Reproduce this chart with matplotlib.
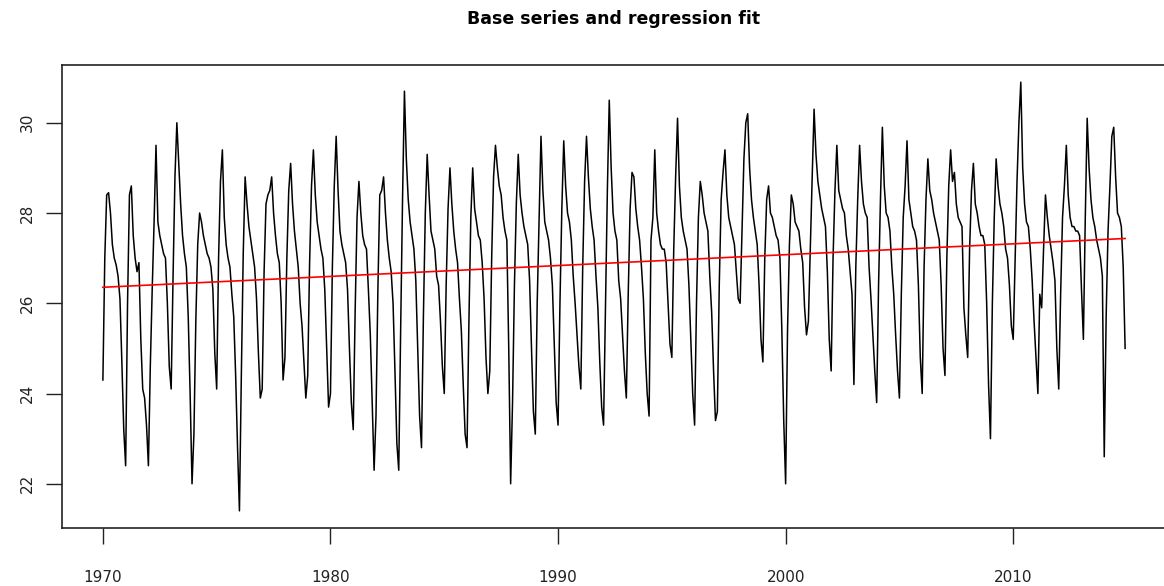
import numpy as np
import matplotlib
matplotlib.use("Agg")
import matplotlib.pyplot as plt

plt.rcParams['font.family'] = ['DejaVu Sans']

# monthly values, Jan 1970 .. Dec 2014
start_year = 1970
vals_1970s = [
    24.3, 27.0, 28.4, 28.45, 28.0, 27.3, 27.0, 26.85, 26.6, 26.1, 24.7, 23.2,
    22.4, 26.0, 28.4, 28.6, 27.5, 27.0, 26.7, 26.9, 25.2, 24.1, 23.9, 23.3,
    22.4, 24.6, 26.3, 27.8, 29.5, 27.8, 27.5, 27.3, 27.1, 27.0, 26.0, 24.6,
    24.1, 26.6, 28.8, 30.0, 29.1, 28.2, 27.5, 27.1, 26.8, 25.7, 24.0, 22.0,
    23.1, 25.6, 27.3, 28.0, 27.8, 27.5, 27.3, 27.1, 27.0, 26.8, 26.3, 24.9,
    24.1, 27.0, 28.7, 29.4, 27.9, 27.3, 27.0, 26.8, 26.2, 25.7, 24.4, 22.8,
    21.4, 24.4, 27.1, 28.8, 28.2, 27.7, 27.4, 27.1, 26.8, 26.1, 24.9, 23.9,
    24.1, 26.7, 28.2, 28.4, 28.5, 28.8, 28.0, 27.5, 27.1, 26.9, 26.0, 24.3,
    24.8, 27.0, 28.5, 29.1, 28.2, 27.6, 27.2, 26.8, 26.0, 25.5, 24.7, 23.9,
    24.4, 26.9, 28.6, 29.4, 28.4, 27.8, 27.5, 27.2, 27.0, 26.3, 25.0, 23.7,
]
vals_1980s = [
    24.0, 26.8, 28.6, 29.7, 28.5, 27.6, 27.3, 27.1, 26.9, 26.3, 25.0, 23.8,
    23.2, 25.8, 27.9, 28.7, 28.0, 27.5, 27.3, 27.2, 26.3, 25.3, 23.8, 22.3,
    23.5, 26.3, 28.4, 28.5, 28.8, 28.0, 27.4, 27.0, 26.7, 26.0, 24.5, 22.9,
    22.3, 25.4, 28.3, 30.7, 29.2, 28.3, 27.8, 27.5, 27.2, 26.5, 25.0, 23.5,
    22.8, 25.7, 28.0, 29.3, 28.4, 27.6, 27.4, 27.2, 26.6, 26.4, 25.6, 24.6,
    24.0, 26.4, 28.1, 29.0, 28.2, 27.6, 27.2, 26.9, 26.1, 25.4, 24.2, 23.1,
    22.8, 25.6, 27.9, 29.0, 28.1, 27.8, 27.5, 27.4, 26.9, 26.1, 24.8, 24.0,
    24.5, 27.0, 28.8, 29.5, 29.0, 28.6, 28.4, 27.9, 27.6, 27.4, 25.0, 22.0,
    23.8, 26.4, 28.2, 29.3, 28.4, 28.0, 27.7, 27.5, 27.3, 26.5, 25.0, 23.6,
    23.1, 26.0, 27.9, 29.7, 28.5, 27.8, 27.6, 27.4, 27.0, 26.4, 25.1, 23.8,
]
vals_1990s = [
    23.3, 26.0, 28.1, 29.6, 28.6, 28.0, 27.8, 27.4, 26.6, 26.0, 25.3, 24.6,
    24.1, 26.8, 28.7, 29.7, 28.8, 28.1, 27.7, 27.4, 26.6, 25.9, 24.7, 23.7,
    23.3, 25.9, 28.5, 30.5, 29.0, 28.0, 27.6, 27.4, 26.5, 26.1, 25.3, 24.5,
    23.9, 26.2, 28.1, 28.9, 28.8, 28.1, 27.7, 27.4, 26.8, 26.1, 24.9, 24.0,
    23.5, 27.4, 27.9, 29.4, 28.0, 27.6, 27.3, 27.2, 27.2, 26.9, 26.0, 25.1,
    24.8, 27.2, 28.8, 30.1, 28.6, 27.9, 27.6, 27.4, 27.2, 26.4, 25.2, 24.0,
    23.3, 26.0, 27.9, 28.7, 28.4, 28.0, 27.8, 27.6, 26.6, 25.8, 24.5, 23.4,
    23.6, 26.4, 28.3, 28.9, 29.4, 28.4, 27.9, 27.7, 27.5, 27.3, 26.7, 26.1,
    26.0, 27.6, 29.2, 30.0, 30.2, 29.0, 28.3, 27.9, 27.6, 27.3, 26.4, 25.2,
    24.7, 27.0, 28.3, 28.6, 28.0, 27.9, 27.7, 27.5, 27.4, 27.0, 25.4, 23.4,
]
vals_2000s = [
    22.0, 25.4, 27.3, 28.4, 28.2, 27.8, 27.7, 27.6, 27.2, 26.9, 25.9, 25.3,
    25.6, 27.2, 28.8, 30.3, 29.3, 28.7, 28.4, 28.1, 27.9, 27.7, 26.7, 25.2,
    24.5, 27.0, 28.5, 29.5, 28.5, 28.3, 28.1, 28.0, 27.5, 27.2, 26.7, 26.2,
    24.2, 26.8, 28.3, 29.5, 28.7, 28.2, 28.0, 27.9, 26.8, 26.1, 25.3, 24.5,
    23.8, 26.4, 28.3, 29.9, 28.6, 28.0, 27.9, 27.6, 26.8, 26.2, 25.3, 24.5,
    23.9, 26.2, 27.9, 28.6, 29.6, 28.3, 28.0, 27.7, 27.6, 27.4, 26.4, 24.8,
    24.0, 26.8, 28.3, 29.2, 28.5, 28.3, 28.0, 27.8, 27.6, 27.4, 26.4, 25.0,
    24.4, 27.0, 28.6, 29.4, 28.7, 28.9, 28.2, 27.9, 27.8, 27.7, 25.9, 25.3,
    24.8, 27.2, 28.5, 29.1, 28.2, 28.0, 27.7, 27.5, 27.5, 27.3, 26.0, 24.2,
    23.0, 26.0, 27.9, 29.2, 28.6, 28.2, 28.0, 27.7, 27.2, 27.0, 26.4, 25.5,
]
vals_2010s = [
    25.2, 27.0, 28.7, 30.0, 30.9, 29.0, 28.2, 27.8, 27.7, 27.2, 26.5, 25.6,
    24.8, 24.0, 26.2, 25.9, 27.2, 28.4, 27.9, 27.5, 27.2, 26.9, 26.5, 25.0,
    24.1, 26.2, 27.9, 28.6, 29.5, 28.4, 27.9, 27.7, 27.7, 27.6, 27.6, 27.5,
    26.3, 25.2, 27.9, 30.1, 29.0, 28.3, 27.9, 27.7, 27.4, 27.2, 27.0, 26.6,
    22.6, 25.7, 27.6, 28.6, 29.7, 29.9, 28.8, 28.0, 27.9, 27.7, 26.8, 25.0,
]

y = np.array(vals_1970s + vals_1980s + vals_1990s + vals_2000s + vals_2010s)
t = start_year + np.arange(len(y)) / 12.0

# linear trend
b, a = np.polyfit(t, y, 1)
fit = a + b * t

fig = plt.figure(figsize=(11.64, 5.86), dpi=100)
ax = fig.add_axes([62 / 1164, 58 / 586, 1104 / 1164, 463 / 586])

ax.plot(t, y, color='black', lw=1.1)
ax.plot(t, fit, color='red', lw=1.2)

ax.margins(x=0.04, y=0.04)
ax.set_xticks([1970, 1980, 1990, 2000, 2010])
ax.set_yticks([22, 24, 26, 28, 30])
ax.tick_params(axis='both', length=11.5, width=1.0, color='#222222',
               labelsize=11, labelcolor='#222222')
ax.tick_params(axis='y', pad=8)
ax.tick_params(axis='x', pad=19)
for lab in ax.get_yticklabels():
    lab.set_rotation(90)
    lab.set_va('center')
for s in ax.spines.values():
    s.set_linewidth(1.2)
    s.set_color('#222222')

fig.text(614 / 1164, 1 - 19 / 586, 'Base series and regression fit',
         ha='center', va='center', fontsize=12.5, fontweight='bold')

fig.savefig('out.png', dpi=100)
